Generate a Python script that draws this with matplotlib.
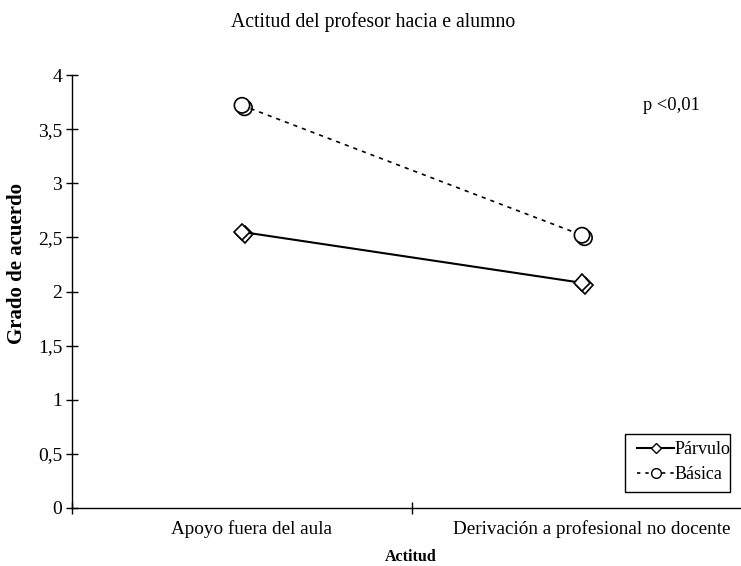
import matplotlib
matplotlib.use("Agg")
import matplotlib.pyplot as plt
import matplotlib.patheffects as pe
from matplotlib.lines import Line2D
from matplotlib.patches import Rectangle

categories = ["Apoyo fuera del aula", "Derivación a profesional no docente"]
parvulo = [2.55, 2.08]
basica = [3.72, 2.52]
yticks = [0, 0.5, 1, 1.5, 2, 2.5, 3, 3.5, 4]
ytick_labels = ["0", "0,5", "1", "1,5", "2", "2,5", "3", "3,5", "4"]
label_shift = 0.028  # category labels sit slightly right of the points

plt.rcParams['font.family'] = ['Liberation Serif', 'DejaVu Serif']

W, H = 741, 566
fig = plt.figure(figsize=(W/100, H/100), dpi=100)
ax = fig.add_axes([72/W, 1-508/H, (752-72)/W, (508-75)/H])

x = list(range(len(categories)))
shadow = [pe.SimpleLineShadow(offset=(1.8, -1.8), shadow_color='black', alpha=1), pe.Normal()]

ax.plot(x, parvulo, color='black', lw=1.5, solid_capstyle='butt')
ax.plot(x, basica, color='black', lw=1.2, linestyle=(0, (2.5, 3)))
ax.plot(x, parvulo, linestyle='none', marker='D', ms=8.5, mfc='white', mec='black', mew=1.2,
        path_effects=shadow)
ax.plot(x, basica, linestyle='none', marker='o', ms=11, mfc='white', mec='black', mew=1.2,
        path_effects=shadow)

ax.set_xlim(-0.5, 1.5)
ax.set_ylim(0, 4)
ax.set_yticks(yticks)
ax.set_yticklabels(ytick_labels, fontsize=14)
ax.set_xticks([-0.5, 0.5, 1.5])
ax.set_xticklabels([])
ax.set_xticks([xi + label_shift for xi in x], minor=True)
ax.set_xticklabels(categories, minor=True, fontsize=13.8)
ax.tick_params(axis='x', which='minor', length=0, pad=9)
ax.tick_params(axis='x', which='major', direction='inout', length=8, width=1)
ax.tick_params(axis='y', direction='inout', length=8, width=1, pad=3)
for s in ['top', 'right']:
    ax.spines[s].set_visible(False)
for s in ['left', 'bottom']:
    ax.spines[s].set_linewidth(1)

ax.set_ylabel("Grado de acuerdo", fontsize=15, fontweight='bold')
ax.yaxis.set_label_coords((17-72)/680, (508-264)/433)
ax.set_xlabel("Actitud", fontsize=11.5, fontweight='bold')
ax.xaxis.set_label_coords((411-72)/680, (508-557)/433)
ax.xaxis.label.set_va('center')
ax.yaxis.label.set_va('center')
fig.text(373/W, 1-22/H, "Actitud del profesor hacia e alumno", ha='center', va='center', fontsize=14.2)
ax.text(1.262, 3.72, "p <0,01", ha='center', va='center', fontsize=13.3)

# legend frame
fig.patches.append(Rectangle((625/W, 1-492/H), 105/W, 58/H, transform=fig.transFigure,
                             fill=False, edgecolor='black', lw=1))
handles = [
    Line2D([], [], color='black', lw=1.5, marker='D', ms=5, mfc='white', mec='black'),
    Line2D([], [], color='black', lw=1.2, linestyle=(0, (2, 3)), marker='o', ms=7, mfc='white', mec='black'),
]
leg = ax.legend(handles, ["Párvulo", "Básica"], loc='upper left',
                bbox_to_anchor=(637/W, 1-441/H), bbox_transform=fig.transFigure,
                fontsize=13, frameon=False, handlelength=2.05, handletextpad=0.05,
                borderpad=0, labelspacing=0.45, borderaxespad=0)

fig.savefig("out.png", dpi=100)
